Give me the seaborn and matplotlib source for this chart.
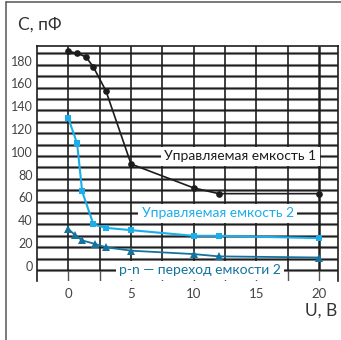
import numpy as np
import matplotlib
matplotlib.use("Agg")
import matplotlib.pyplot as plt
from matplotlib.lines import Line2D
from matplotlib.transforms import ScaledTranslation
import seaborn as sns

# data
u1 = [0, 0.7, 1.4, 2, 3, 5, 10, 12, 20]
c1 = [192, 190, 187, 178, 157, 93, 72, 67, 67]

u2 = [0, 0.7, 1.1, 2, 3, 5, 10, 12, 20]
c2 = [133, 111, 69, 40, 37, 35, 30, 30, 28]

u3 = [0, 0.5, 1.1, 2.1, 3, 5, 10, 12, 20]
c3 = [36, 31, 26, 23, 20, 17, 14, 12, 11]

labels = ["Управляемая емкость 1", "Управляемая емкость 2", "p-n — переход емкости 2"]
colors = ["#1c1c1c", "#1aaeea", "#15729c"]
x_ticks = [0, 5, 10, 15, 20]
y_ticks = list(range(0, 181, 20))

sns.set_style("white")
plt.rcParams['font.family'] = ['Lato', 'DejaVu Sans']

fig = plt.figure(figsize=(3.41, 3.40), dpi=100)
ax = fig.add_axes([37 / 341, 59 / 340, 301 / 341, 235 / 340])
ax.set_xlim(-2.5, 21.5)
ax.set_ylim(-9.6, 196.5)

# grid drawn by hand: doubled horizontal lines, dark vertical lines
for yv in range(0, 191, 10):
    ax.axhline(yv, color="#8c8c8c", lw=2.2, zorder=1)
    ax.axhline(yv, color="#1e1e1e", lw=0.9, zorder=1.1)
for xv in np.arange(0, 20.1, 2.5):
    lw = 1.8 if xv == 20 else 1.2
    ax.vlines(xv, 0, 196.5, color="#1e1e1e", lw=lw, zorder=1)
    ax.vlines(xv, -9.6, 0, color="#555555", lw=1.0, zorder=1)

for side in ["top", "left", "right"]:
    ax.spines[side].set_visible(True)
    ax.spines[side].set_color("#1e1e1e")
    ax.spines[side].set_linewidth(1.2)
ax.spines["bottom"].set_visible(False)

sns.lineplot(x=u1, y=c1, color=colors[0], marker="o", markersize=4.8,
             markeredgewidth=0, linewidth=1.2, ax=ax, zorder=5)
sns.lineplot(x=u2, y=c2, color=colors[1], marker="s", markersize=4.8,
             markeredgewidth=0, linewidth=1.5, ax=ax, zorder=5)
sns.lineplot(x=u3, y=c3, color=colors[2], marker="^", markersize=5.8,
             markeredgewidth=0, linewidth=1.3, ax=ax, zorder=5)

box = dict(facecolor="white", edgecolor="none", boxstyle="square,pad=0.25")
ax.text(13.7, 100, labels[0], color=colors[0], fontsize=10.0, ha="center",
        va="center", bbox=box, zorder=3)
ax.text(11.9, 50, labels[1], color=colors[1], fontsize=10.0, ha="center",
        va="center", bbox=box, zorder=3)
ax.text(10.5, 0, labels[2], color=colors[2], fontsize=10.0, ha="center",
        va="center", bbox=box, zorder=3)

ax.set_xticks(x_ticks)
ax.set_yticks(y_ticks)
ax.set_xticklabels([str(v) for v in x_ticks])
ax.set_yticklabels([str(v) for v in y_ticks])
ax.tick_params(axis="x", length=0, pad=5, labelsize=9.5, labelcolor="#444444")
ax.tick_params(axis="y", length=0, pad=3, labelsize=9.0, labelcolor="#444444")
for lab in ax.get_yticklabels():
    lab.set_transform(lab.get_transform() + ScaledTranslation(0, 3 / 72, fig.dpi_scale_trans))
ax.set_xlabel("")
ax.set_ylabel("")

fig.text(18 / 341, 1 - 25 / 340, "С, пФ", fontsize=12.5, color="#333333",
         va="center", ha="left")
fig.text(337 / 341, 1 - 311 / 340, "U, В", fontsize=12.5, color="#333333",
         va="center", ha="right")

# outer frame (left and top edges)
fig.add_artist(Line2D([6 / 341, 6 / 341], [0, 1 - 1.5 / 340], transform=fig.transFigure,
                      color="#555555", lw=1.1))
fig.add_artist(Line2D([6 / 341, 1], [1 - 1.5 / 340, 1 - 1.5 / 340], transform=fig.transFigure,
                      color="#555555", lw=1.1))

fig.savefig("out.png", dpi=100)
